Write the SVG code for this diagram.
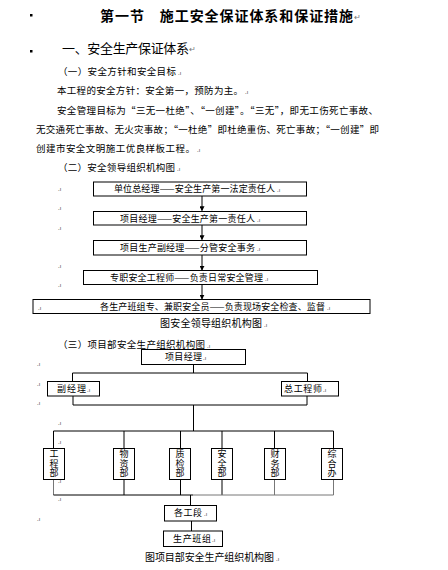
<svg xmlns="http://www.w3.org/2000/svg" width="448" height="570" viewBox="0 0 448 570">
<style>
text{font-family:"Noto Sans CJK SC","Noto Sans",sans-serif;fill:#000}
.t{font-size:14px;font-weight:bold}
.h{font-size:13px}
.b{font-size:9.5px}
.n{font-size:9px}
.v{font-size:9px;writing-mode:vertical-rl;text-anchor:middle;letter-spacing:0.3px}
.c{font-size:10px}
.pm{font-size:6px;fill:#444}
.ret{font-size:8px;fill:#777}
.box{fill:#fff;stroke:#000;stroke-width:1}
.ln{stroke:#000;stroke-width:1;fill:none}
.gl{stroke:#777;stroke-width:1;fill:none}
</style>
<defs>
<marker id="ah" viewBox="0 0 6 6" refX="5" refY="3" markerWidth="5" markerHeight="5" orient="auto">
<path d="M0,0 L6,3 L0,6 z" fill="#000"/>
</marker>
</defs>
<rect width="448" height="570" fill="#fff"/>
<g id="text">
<rect x="30" y="14" width="2.5" height="2.5" fill="#000"/>
<rect x="30" y="50" width="2.5" height="2.5" fill="#000"/>
<text class="t" x="100" y="21" textLength="253" lengthAdjust="spacing">第一节　施工安全保证体系和保证措施</text><text class="ret" x="354" y="20">↵</text>
<text class="h" x="62" y="53" textLength="127" lengthAdjust="spacing">一、安全生产保证体系</text><text class="ret" x="189" y="52">↵</text>
<text class="b" x="58" y="74.5" textLength="118" lengthAdjust="spacing">（一）安全方针和安全目标</text><text class="pm" x="178" y="74.5">.ı</text>
<text class="b" x="57" y="93.5" textLength="186" lengthAdjust="spacing">本工程的安全方针：安全第一，预防为主。</text><text class="pm" x="245" y="93.5">.ı</text>
<text class="b" x="57" y="113.5" textLength="321" lengthAdjust="spacing">安全管理目标为“三无一杜绝”、“一创建”。“三无”，即无工伤死亡事故、</text>
<text class="b" x="36" y="133" textLength="343" lengthAdjust="spacing">无交通死亡事故、无火灾事故；“一杜绝”即杜绝重伤、死亡事故；“一创建”即</text>
<text class="b" x="36" y="152" textLength="159" lengthAdjust="spacing">创建市安全文明施工优良样板工程。</text><text class="pm" x="197" y="152">.ı</text>
<text class="b" x="58" y="171" textLength="117" lengthAdjust="spacing">（二）安全领导组织机构图</text><text class="pm" x="177" y="171">.ı</text>
<text class="pm" x="58" y="191">.ı</text>
<text class="pm" x="58" y="210">.ı</text>
<text class="pm" x="58" y="230">.ı</text>
<text class="pm" x="58" y="268">.ı</text>
<text class="pm" x="58" y="287">.ı</text>
<text class="c" x="160" y="326.5" textLength="102" lengthAdjust="spacing">图安全领导组织机构图</text><text class="pm" x="264" y="326.5">.ı</text>
<text class="b" x="58" y="347.5" textLength="147" lengthAdjust="spacing">（三）项目部安全生产组织机构图</text><text class="pm" x="207" y="347.5">.ı</text>
<text class="pm" x="37" y="366">.ı</text>
<text class="pm" x="37" y="386">.ı</text>
<text class="pm" x="37" y="405">.ı</text>
<text class="pm" x="58" y="425">.ı</text>
<text class="pm" x="58" y="444">.ı</text>
<text class="pm" x="58" y="483">.ı</text>
<text class="pm" x="58" y="501">.ı</text>
<text class="pm" x="37" y="521">.ı</text>
<text class="c" x="145" y="560.6" textLength="129" lengthAdjust="spacing">图项目部安全生产组织机构图</text><text class="pm" x="276" y="560.6">.ı</text>
</g>
<g id="connectors">
<line class="ln" x1="202" y1="196" x2="202" y2="210.5" marker-end="url(#ah)"/>
<line class="ln" x1="202" y1="225" x2="202" y2="239.5" marker-end="url(#ah)"/>
<line class="ln" x1="202" y1="255" x2="202" y2="270" marker-end="url(#ah)"/>
<line class="ln" x1="202" y1="285" x2="202" y2="298.8" marker-end="url(#ah)"/>
<polyline class="ln" points="193.5,364.5 193.5,373"/>
<polyline class="ln" points="72.5,381.5 72.5,373 307.5,373 307.5,381.5"/>
<polyline class="ln" points="73,396 73,405 307,405 307,396"/>
<line class="ln" x1="193.5" y1="405" x2="193.5" y2="431"/>
<line class="ln" x1="53.5" y1="431" x2="333.5" y2="431"/>
<line class="ln" x1="53.5" y1="431" x2="53.5" y2="448.5"/>
<line class="ln" x1="124" y1="431" x2="124" y2="448.5"/>
<line class="ln" x1="180.5" y1="431" x2="180.5" y2="448.5"/>
<line class="ln" x1="222" y1="431" x2="222" y2="448.5"/>
<line class="ln" x1="274.5" y1="431" x2="274.5" y2="448.5"/>
<line class="ln" x1="333.5" y1="431" x2="333.5" y2="448.5"/>
<line class="gl" x1="53.5" y1="479.5" x2="53.5" y2="495"/>
<line class="ln" x1="124" y1="479.5" x2="124" y2="495"/>
<line class="ln" x1="180.5" y1="479.5" x2="180.5" y2="495"/>
<line class="ln" x1="222" y1="479.5" x2="222" y2="495"/>
<line class="gl" x1="274.5" y1="479.5" x2="274.5" y2="495"/>
<line class="gl" x1="333.5" y1="479.5" x2="333.5" y2="495"/>
<line class="ln" x1="53.5" y1="495" x2="193" y2="495"/>
<line class="gl" x1="193" y1="495" x2="333.5" y2="495"/>
<line class="ln" x1="190.5" y1="495" x2="190.5" y2="505.5"/>
<line class="ln" x1="191.5" y1="521" x2="191.5" y2="531"/>
</g>
<g id="n1"><rect class="box" x="93.5" y="182" width="213" height="14"/><text class="n" x="114" y="192.4" textLength="161" lengthAdjust="spacing">单位总经理——安全生产第一法定责任人</text><text class="pm" x="277" y="192.4">.ı</text></g>
<g id="n2"><rect class="box" x="93.5" y="211.5" width="213" height="13.5"/><text class="n" x="120" y="221.5" textLength="135" lengthAdjust="spacing">项目经理——安全生产第一责任人</text><text class="pm" x="257" y="221.5">.ı</text></g>
<g id="n3"><rect class="box" x="93.5" y="240.5" width="213" height="14.5"/><text class="n" x="120" y="251" textLength="135" lengthAdjust="spacing">项目生产副经理——分管安全事务</text><text class="pm" x="257" y="251">.ı</text></g>
<g id="n4"><rect class="box" x="83.5" y="270.5" width="234" height="14"/><text class="n" x="110" y="281" textLength="153" lengthAdjust="spacing">专职安全工程师——负责日常安全管理</text><text class="pm" x="265" y="281">.ı</text></g>
<g id="n5"><rect class="box" x="33" y="299.5" width="337" height="14"/><text class="pm" x="38" y="310">.ı</text><text class="n" x="100" y="310" textLength="225" lengthAdjust="spacing">各生产班组专、兼职安全员——负责现场安全检查、监督</text><text class="pm" x="327" y="310">.ı</text></g>
<g id="m1"><rect class="box" x="141.5" y="349.5" width="104" height="15"/><text class="n" x="165" y="360.4" textLength="37" lengthAdjust="spacing">项目经理</text><text class="pm" x="203" y="360.4">.ı</text></g>
<g id="m2"><rect class="box" x="47.5" y="381.5" width="52" height="14.5"/><text class="n" x="57" y="392.4" textLength="29" lengthAdjust="spacing">副经理</text><text class="pm" x="87" y="392.4">.ı</text></g>
<g id="m3"><rect class="box" x="281.5" y="381.5" width="57" height="14.5"/><text class="n" x="284" y="392.4" textLength="38" lengthAdjust="spacing">总工程师</text><text class="pm" x="323" y="392.4">.ı</text></g>
<g id="d1"><rect class="box" x="43.5" y="448.5" width="21" height="31"/><text class="v" x="54" y="463.5">工程部</text></g>
<g id="d2"><rect class="box" x="113.5" y="448.5" width="21" height="31"/><text class="v" x="124" y="463.5">物资部</text></g>
<g id="d3"><rect class="box" x="169.5" y="448.5" width="21" height="31"/><text class="v" x="180" y="463.5">质检部</text></g>
<g id="d4"><rect class="box" x="211.5" y="448.5" width="21" height="31"/><text class="v" x="222" y="463.5">安全部</text></g>
<g id="d5"><rect class="box" x="264.5" y="448.5" width="21" height="31"/><text class="v" x="275" y="463.5">财务部</text></g>
<g id="d6"><rect class="box" x="321.5" y="448.5" width="21" height="31"/><text class="v" x="332" y="463.5">综合办</text></g>
<g id="p1"><rect class="box" x="164.5" y="505.5" width="52" height="15.5"/><text class="n" x="174" y="516.4" textLength="28" lengthAdjust="spacing">各工段</text><text class="pm" x="204" y="516.4">.ı</text></g>
<g id="p2"><rect class="box" x="163.5" y="531" width="59" height="15.5"/><text class="n" x="173" y="542" textLength="38" lengthAdjust="spacing">生产班组</text><text class="pm" x="212" y="542">.ı</text></g>
</svg>
